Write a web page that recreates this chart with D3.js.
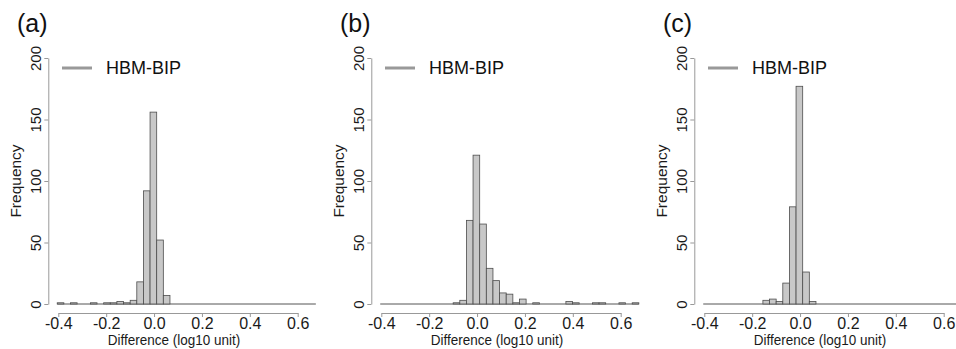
<!DOCTYPE html>
<html><head><meta charset="utf-8">
<script src="https://cdn.jsdelivr.net/npm/d3@7"></script>
<style>
html,body{margin:0;padding:0;background:#fff;}
svg{display:block;font-family:"Liberation Sans",Arial,Helvetica,sans-serif;}
</style></head>
<body><svg id="chart" width="956" height="349"></svg>
<script>
// ---- data ----
const panelLabels = ["(a)", "(b)", "(c)"];
const legendLabel = "HBM-BIP";
const xTickValues = [-0.4, -0.2, 0.0, 0.2, 0.4, 0.6];
const yTickValues = [0, 50, 100, 150, 200];
const xTitle = "Difference (log10 unit)";
const yTitle = "Frequency";
const binStart = -0.4045;
const binWidth = 0.0277;
const countsA = [1,0,1,0,0,1,0,1,1,2,1,3,18,92,156,52,7,0,0,0,0,0,0,0,0,0,0,0,0,0,0,0,0,0,0,0,0,0,0];
const countsB = [0,0,0,0,0,0,0,0,0,0,0,1,3,68,121,65,29,19,9,8,1,4,0,1,0,0,0,0,2,1,0,0,1,1,0,0,1,0,1];
const countsC = [0,0,0,0,0,0,0,0,0,3,4,2,17,79,177,26,2,0,0,0,0,0,0,0,0,0,0,0,0,0,0,0,0,0,0,0,0,0,0];
const allCounts = [countsA, countsB, countsC];

// ---- drawing ----
const svg = d3.select("#chart");
const offsets = [0, 323, 646];
const fmt = d => d.toFixed(1);
const FONT = "Liberation Sans, Arial, sans-serif";

allCounts.forEach((counts, p) => {
  const off = offsets[p];
  const g = svg.append("g").attr("transform", `translate(${off},0)`);
  const x = d3.scaleLinear().domain([-0.4, 0.6]).range([58.3, 297.7]);
  const y = d3.scaleLinear().domain([0, 200]).range([304, 58]);

  // bars
  const bins = counts.map((c, i) => ({x0: binStart + i * binWidth, x1: binStart + (i + 1) * binWidth, c}));
  // baseline across all bins (zero-height bins)
  g.append("line")
    .attr("x1", x(bins[0].x0)).attr("x2", x(bins[bins.length - 1].x1))
    .attr("y1", y(0)).attr("y2", y(0))
    .attr("stroke", "#555").attr("stroke-width", 1);
  g.append("g").selectAll("rect").data(bins.filter(d => d.c > 0)).join("rect")
    .attr("x", d => x(d.x0))
    .attr("width", d => x(d.x1) - x(d.x0))
    .attr("y", d => y(d.c))
    .attr("height", d => y(0) - y(d.c))
    .attr("fill", "#c8c8c8")
    .attr("stroke", "#4d4d4d")
    .attr("stroke-width", 0.8);

  // y axis
  const ya = g.append("g").attr("transform", "translate(48.3,0)")
    .call(d3.axisLeft(y).tickValues(yTickValues).tickSize(4).tickSizeOuter(0));
  ya.select(".domain").attr("stroke", "#999");
  ya.selectAll(".tick line").attr("stroke", "#999");
  ya.selectAll(".tick text")
    .attr("x", 0).attr("dy", 0)
    .attr("transform", "translate(-7,0) rotate(-90)")
    .attr("text-anchor", "middle")
    .attr("font-size", 15).attr("fill", "#1a1a1a")
    .attr("font-family", FONT);

  // x axis
  const xa = g.append("g").attr("transform", "translate(0,313)")
    .call(d3.axisBottom(x).tickValues(xTickValues).tickFormat(fmt).tickSize(4).tickSizeOuter(0));
  xa.select(".domain").attr("stroke", "#999");
  xa.selectAll(".tick line").attr("stroke", "#999");
  xa.selectAll(".tick text")
    .attr("y", 15.5).attr("dy", 0)
    .attr("font-size", 16).attr("fill", "#1a1a1a")
    .attr("font-family", FONT);

  // titles
  g.append("text").attr("transform", "translate(174,345) scale(0.9,1)").attr("text-anchor", "middle")
    .attr("font-size", 15).attr("fill", "#1a1a1a").text(xTitle);
  g.append("text").attr("transform", "translate(21,181) rotate(-90)").attr("text-anchor", "middle")
    .attr("font-size", 15.5).attr("fill", "#1a1a1a").text(yTitle);

  // panel label
  g.append("text").attr("x", 17).attr("y", 32).attr("font-size", 25).attr("fill", "#111").text(panelLabels[p]);

  // legend
  g.append("line").attr("x1", 62).attr("x2", 92).attr("y1", 68).attr("y2", 68)
    .attr("stroke", "#999").attr("stroke-width", 3);
  g.append("text").attr("x", 106).attr("y", 74).attr("font-size", 18).attr("fill", "#111").text(legendLabel);
});
</script></body></html>
